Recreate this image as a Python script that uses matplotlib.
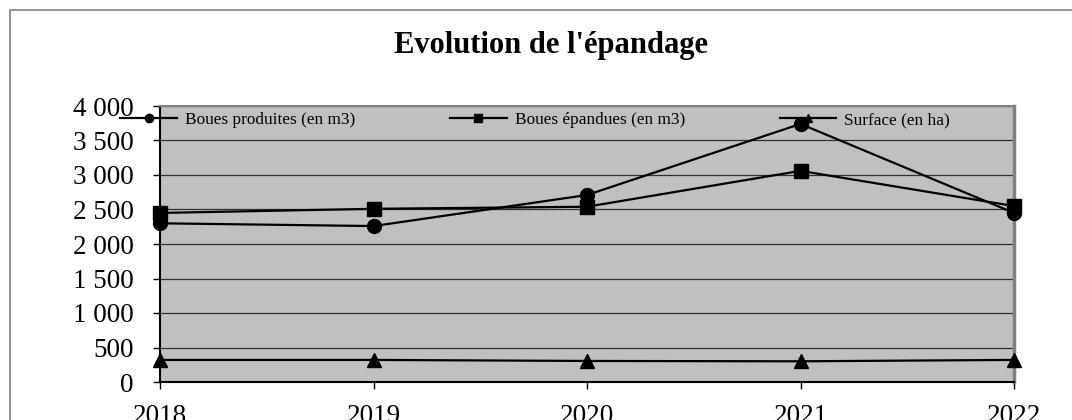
import matplotlib
matplotlib.use("Agg")
import matplotlib.pyplot as plt
from matplotlib.patches import Rectangle
from matplotlib.ticker import FuncFormatter

years = ["2018", "2019", "2020", "2021", "2022"]
boues_produites = [2300, 2260, 2710, 3740, 2450]
boues_epandues = [2450, 2510, 2540, 3060, 2550]
surface = [320, 320, 305, 300, 320]
labels = ["Boues produites (en m3)", "Boues épandues (en m3)", "Surface (en ha)"]
title = "Evolution de l'épandage"

plt.rcParams['font.family'] = ['Liberation Serif', 'DejaVu Serif']

fig = plt.figure(figsize=(10.72, 4.2), dpi=100)
fig.patches.append(Rectangle((10/1072, -0.1), 1.2, 1 - 10/420 + 0.1,
                             transform=fig.transFigure, fill=False,
                             edgecolor='#808080', linewidth=1.2))

ax = fig.add_axes([160/1072, 1 - 382/420, (1014 - 160)/1072, (382 - 106)/420])
ax.set_facecolor('#C0C0C0')

x = list(range(len(years)))
ax.plot(x, boues_produites, color='black', lw=1.6, marker='o', ms=10, label=labels[0], clip_on=False, zorder=4)
ax.plot(x, boues_epandues, color='black', lw=1.6, marker='s', ms=10, label=labels[1], clip_on=False, zorder=4)
ax.plot(x, surface, color='black', lw=1.6, marker='^', ms=10, label=labels[2], clip_on=False, zorder=4)

ax.set_xlim(0, len(years) - 1)
ax.set_ylim(0, 4000)
ax.set_yticks(range(0, 4001, 500))
ax.yaxis.set_major_formatter(FuncFormatter(lambda v, p: f"{int(v):,}".replace(",", " ")))
ax.set_xticks(x)
ax.set_xticklabels(years)
ax.tick_params(axis='both', direction='out', length=5, width=1, labelsize=19.5, colors='black')
ax.tick_params(axis='y', pad=14)
ax.tick_params(axis='x', pad=10.5)
ax.grid(axis='y', color='#303030', lw=0.9)
ax.set_axisbelow(True)

ax.spines['left'].set_color('black')
ax.spines['bottom'].set_color('black')
ax.spines['left'].set_linewidth(1.5)
ax.spines['bottom'].set_linewidth(1.5)
ax.spines['top'].set_color('#808080')
ax.spines['right'].set_color('#808080')
ax.spines['top'].set_linewidth(1.5)
ax.spines['right'].set_linewidth(2.5)

leg = ax.legend(loc='upper left', bbox_to_anchor=(-43/854, 1 - 3/276), ncol=3, frameon=False,
                fontsize=12.4, handlelength=3.3, handletextpad=0.45, columnspacing=5.5,
                markerscale=0.6, borderaxespad=0.0, borderpad=0.2)
for h in leg.legend_handles:
    h.set_clip_on(False)

fig.text(551/1072, 1 - 45/420, title, ha='center', va='center', fontsize=22, fontweight='bold')

fig.savefig("out.png", dpi=100)
